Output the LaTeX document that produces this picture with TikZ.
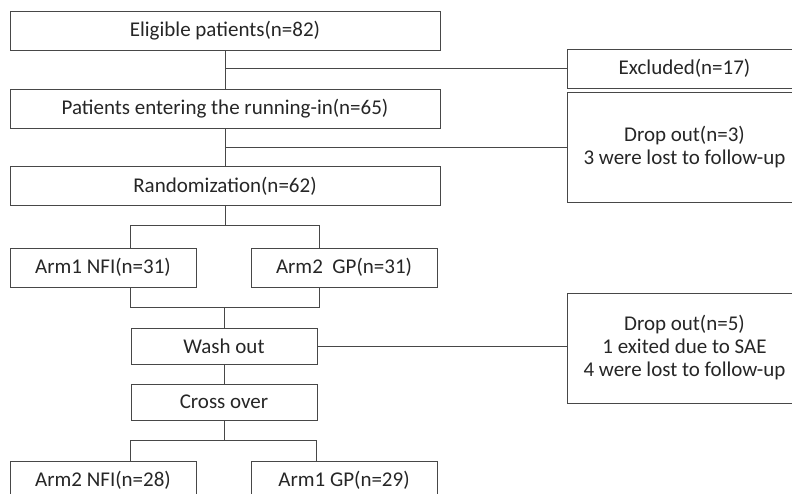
\documentclass[tikz,border=0pt]{standalone}
\usepackage{fontspec}
\setmainfont{Carlito}
\usepackage{tikz}
\usetikzlibrary{positioning}

\begin{document}
\begin{tikzpicture}[x=1pt,y=-1pt,line width=0.9pt,
  box/.style={draw=black!72,inner sep=0pt,align=center,text=black!85,
    font=\fontsize{21}{23}\selectfont},
  wide/.style={box,minimum width=430pt,minimum height=39pt},
  arm/.style={box,minimum width=186pt,minimum height=39pt},
  step box/.style={box,minimum width=186pt,minimum height=36pt},
  side/.style={box,minimum width=235pt},
  link/.style={draw=black!72}]
 \useasboundingbox (0,0) rectangle (792,494);
 \clip (0,0) rectangle (792,494);
 % main column
 \node[wide] (elig) at (225,31) {Eligible patients(n=82)};
 \node[wide] (pat) at (225,108.5) {Patients entering the running-in(n=65)};
 \node[wide] (rand) at (225,186) {Randomization(n=62)};
 \node[arm] (arma) at (103,267.5) {Arm1 NFI(n=31)};
 \node[arm] (armb) at (344,267.5) {Arm2\ \ GP(n=31)};
 \node[step box] (wash) at (224,346) {Wash out};
 \node[step box] (cross) at (224,402) {Cross over};
 \node[arm] (armc) at (103,480.5) {Arm2 NFI(n=28)};
 \node[arm] (armd) at (344,480.5) {Arm1 GP(n=29)};
 % side boxes
 \node[side,minimum height=39pt] (excl) at (684.5,68.5) {Excluded(n=17)};
 \node[side,minimum height=110pt] (drop1) at (684.5,147) {Drop out(n=3)\\3 were lost to follow-up};
 \node[side,minimum height=110pt] (drop2) at (684.5,348) {Drop out(n=5)\\1 exited due to SAE\\4 were lost to follow-up};
 % joints
 \coordinate (k1) at (130,225);
 \coordinate (k2) at (319,225);
 \coordinate (m1) at (130,307);
 \coordinate (m2) at (319,307);
 \coordinate (n1) at (130,440);
 \coordinate (n2) at (316,440);
 % connectors
 \draw[link] (elig) -- (pat);
 \draw[link] (elig.south |- excl.west) -- (excl.west);
 \draw[link] (pat) -- (rand);
 \draw[link] (pat.south |- drop1.west) -- (drop1.west);
 \draw[link] (rand.south) -- (rand.south |- k1);
 \draw[link] (k1 |- arma.north) -- (k1) -- (k2) -- (k2 |- armb.north);
 \draw[link] (m1 |- arma.south) -- (m1) -- (m2) -- (m2 |- armb.south);
 \draw[link] (wash.north) -- (wash.north |- m1);
 \draw[link] (wash.east) -- (wash.east -| drop2.west);
 \draw[link] (wash) -- (cross);
 \draw[link] (cross.south) -- (cross.south |- n1);
 \draw[link] (n1 |- armc.north) -- (n1) -- (n2) -- (n2 |- armd.north);
\end{tikzpicture}
\end{document}
